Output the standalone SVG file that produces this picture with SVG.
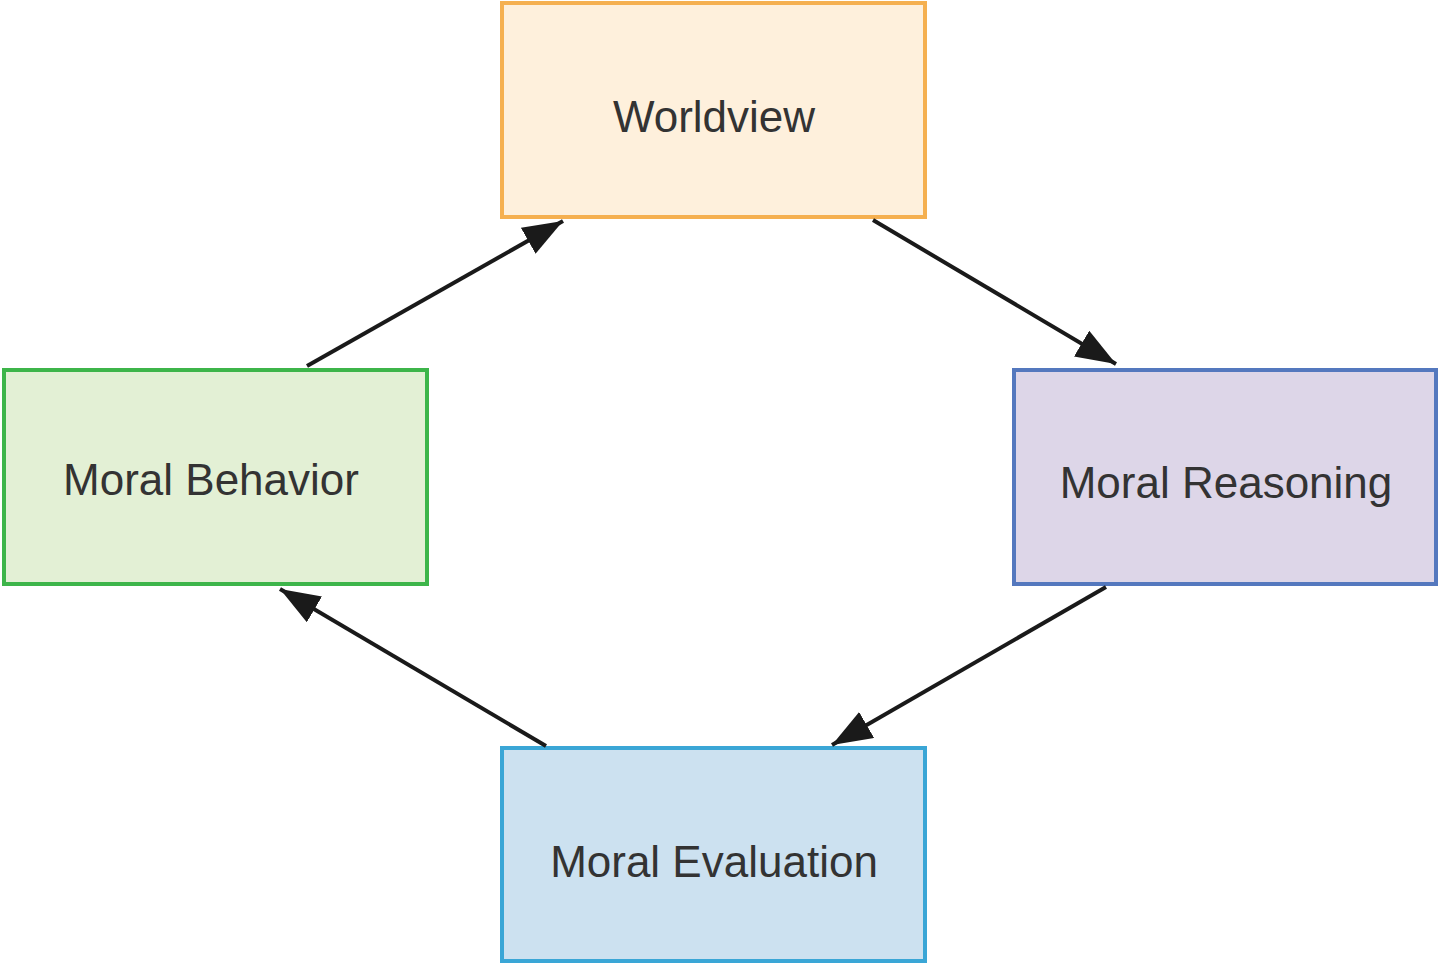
<svg xmlns="http://www.w3.org/2000/svg" width="1440" height="964" viewBox="0 0 1440 964">
<style>
.box{stroke-width:4}
.lbl{font-family:"Liberation Sans",Arial,sans-serif;font-size:44px;fill:#333333;text-anchor:middle}
.edge{stroke:#1a1a1a;stroke-width:4;fill:none}
</style>
<defs>
<marker id="ah" viewBox="0 0 40 30" refX="40" refY="15" markerWidth="40" markerHeight="30" markerUnits="userSpaceOnUse" orient="auto">
<path d="M0,0 L40,15 L0,30 Z" fill="#1a1a1a"/>
</marker>
</defs>
<rect width="1440" height="964" fill="#ffffff"/>
<g id="worldview">
<rect class="box" x="502" y="3" width="423" height="214" fill="#FEF0DC" stroke="#F5B050"/>
<text class="lbl" x="714" y="132">Worldview</text>
</g>
<g id="moral-behavior">
<rect class="box" x="4" y="370" width="423" height="214" fill="#E3F0D5" stroke="#3DB54A"/>
<text class="lbl" x="211" y="495">Moral Behavior</text>
</g>
<g id="moral-reasoning">
<rect class="box" x="1014" y="370" width="422" height="214" fill="#DDD6E8" stroke="#5478BE"/>
<text class="lbl" x="1226" y="498">Moral Reasoning</text>
</g>
<g id="moral-evaluation">
<rect class="box" x="502" y="748" width="423" height="213" fill="#CCE1F0" stroke="#3AA6D6"/>
<text class="lbl" x="714" y="877">Moral Evaluation</text>
</g>
<g id="connectors">
<line class="edge" x1="307" y1="366" x2="563" y2="221" marker-end="url(#ah)"/>
<line class="edge" x1="873" y1="220" x2="1116" y2="364" marker-end="url(#ah)"/>
<line class="edge" x1="1106" y1="587" x2="832" y2="745" marker-end="url(#ah)"/>
<line class="edge" x1="546" y1="746" x2="280" y2="589" marker-end="url(#ah)"/>
</g>
</svg>
